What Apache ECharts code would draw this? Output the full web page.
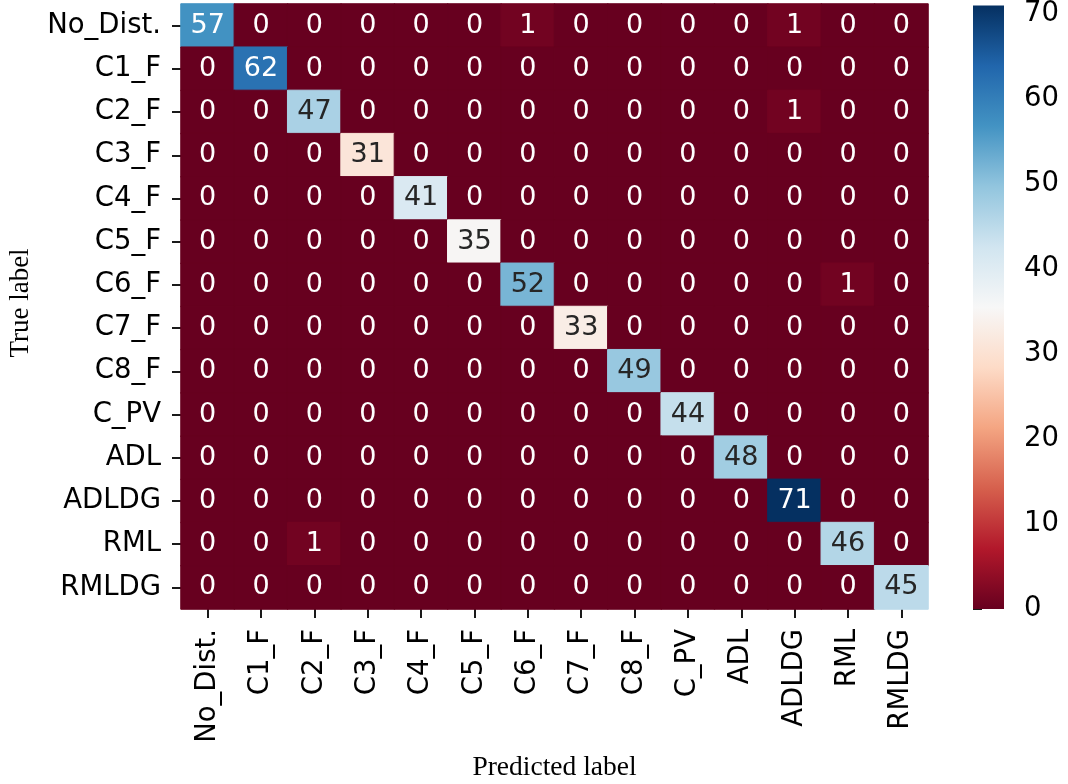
<!DOCTYPE html>
<html>
<head>
<meta charset="utf-8">
<script src="https://cdn.jsdelivr.net/npm/echarts@6/dist/echarts.min.js"></script>
<style>html,body{margin:0;padding:0;background:#fff;}#chart{width:1068px;height:784px;}</style>
</head>
<body>
<div id="chart"></div>
<script>
// ---- data ----
const categories = ['No_Dist.','C1_F','C2_F','C3_F','C4_F','C5_F','C6_F','C7_F','C8_F','C_PV','ADL','ADLDG','RML','RMLDG'];
const rowNoDist = [57,0,0,0,0,0,1,0,0,0,0,1,0,0];
const rowC1F    = [0,62,0,0,0,0,0,0,0,0,0,0,0,0];
const rowC2F    = [0,0,47,0,0,0,0,0,0,0,0,1,0,0];
const rowC3F    = [0,0,0,31,0,0,0,0,0,0,0,0,0,0];
const rowC4F    = [0,0,0,0,41,0,0,0,0,0,0,0,0,0];
const rowC5F    = [0,0,0,0,0,35,0,0,0,0,0,0,0,0];
const rowC6F    = [0,0,0,0,0,0,52,0,0,0,0,0,1,0];
const rowC7F    = [0,0,0,0,0,0,0,33,0,0,0,0,0,0];
const rowC8F    = [0,0,0,0,0,0,0,0,49,0,0,0,0,0];
const rowCPV    = [0,0,0,0,0,0,0,0,0,44,0,0,0,0];
const rowADL    = [0,0,0,0,0,0,0,0,0,0,48,0,0,0];
const rowADLDG  = [0,0,0,0,0,0,0,0,0,0,0,71,0,0];
const rowRML    = [0,0,1,0,0,0,0,0,0,0,0,0,46,0];
const rowRMLDG  = [0,0,0,0,0,0,0,0,0,0,0,0,0,45];
const matrixRows = [rowNoDist,rowC1F,rowC2F,rowC3F,rowC4F,rowC5F,rowC6F,rowC7F,rowC8F,rowCPV,rowADL,rowADLDG,rowRML,rowRMLDG];
const colorMin = 0;
const colorMax = 71;
const colorbarTicks = [0,10,20,30,40,50,60,70];

// ---- colormap (RdBu) ----
const rdbu = ['#67001f','#b2182b','#d6604d','#f4a582','#fddbc7','#f7f7f7','#d1e5f0','#92c5de','#4393c3','#2166ac','#053061'];
function hex2rgb(h){return [parseInt(h.slice(1,3),16),parseInt(h.slice(3,5),16),parseInt(h.slice(5,7),16)];}
function cmap(v){
  let t=(v-colorMin)/(colorMax-colorMin); t=Math.max(0,Math.min(1,t));
  const p=t*(rdbu.length-1); const i=Math.min(Math.floor(p),rdbu.length-2); const f=p-i;
  const a=hex2rgb(rdbu[i]), b=hex2rgb(rdbu[i+1]);
  return [0,1,2].map(k=>a[k]+(b[k]-a[k])*f);
}
function lum(rgb){
  const c=rgb.map(x=>{x/=255;return x<=0.03928?x/12.92:Math.pow((x+0.055)/1.055,2.4);});
  return 0.2126*c[0]+0.7152*c[1]+0.0722*c[2];
}
function rgbStr(c){return 'rgb('+c.map(Math.round).join(',')+')';}

const data=[];
matrixRows.forEach((row,r)=>row.forEach((v,c)=>{
  const rgb=cmap(v);
  const dark = lum(rgb)>0.408;
  data.push({value:[c,r,v],
    itemStyle:{borderColor:rgbStr(rgb),borderWidth:1},
    label:{color:dark?'#262626':'#ffffff'}});
}));

const FONT='DejaVu Sans';
const chart=echarts.init(document.getElementById('chart'),null,{renderer:'canvas'});
chart.setOption({
  backgroundColor:'#ffffff',
  animation:false,
  grid:[
    {left:181,top:4,width:747,height:605},
    {left:973,top:4,width:31,height:605}
  ],
  xAxis:[
    {type:'category',data:categories,gridIndex:0,position:'bottom',
     axisLine:{show:false},splitLine:{show:false},
     axisTick:{show:true,alignWithLabel:true,length:9,lineStyle:{color:'#000',width:1.8}},
     axisLabel:{rotate:90,margin:20,fontSize:27.5,fontFamily:FONT,color:'#000',interval:0}},
    {type:'value',gridIndex:1,show:false,min:0,max:1}
  ],
  yAxis:[
    {type:'category',data:categories,gridIndex:0,inverse:true,
     axisLine:{show:false},splitLine:{show:false},
     axisTick:{show:true,alignWithLabel:true,length:9,lineStyle:{color:'#000',width:1.8}},
     axisLabel:{margin:20,fontSize:27.5,fontFamily:FONT,color:'#000',interval:0}},
    {type:'value',gridIndex:1,position:'right',min:colorMin,max:colorMax,
     axisLine:{show:false},splitLine:{show:false},
     axisTick:{show:true,length:9,lineStyle:{color:'#000',width:1.8},customValues:colorbarTicks},
     axisLabel:{margin:20,fontSize:27.5,fontFamily:FONT,color:'#000',customValues:colorbarTicks}}
  ],
  visualMap:{
    type:'continuous',min:colorMin,max:colorMax,seriesIndex:0,show:false,
    inRange:{color:rdbu}
  },
  graphic:[
    {type:'text',x:554.5,y:768,style:{text:'Predicted label',font:'27.5px "Liberation Serif"',fill:'#000',textAlign:'center',textVerticalAlign:'middle'}},
    {type:'text',x:21,y:303,rotation:Math.PI/2,style:{text:'True label',font:'27px "Liberation Serif"',fill:'#000',textAlign:'center',textVerticalAlign:'middle'}}
  ],
  series:[{
    type:'heatmap',xAxisIndex:0,yAxisIndex:0,data:data,
    label:{show:true,fontSize:27,fontFamily:FONT,formatter:p=>String(p.value[2])},
    emphasis:{disabled:true}
  },{
    type:'custom',xAxisIndex:1,yAxisIndex:1,data:[[0,colorMin]],silent:true,
    renderItem:function(params,api){
      const p0=api.coord([0,colorMin]);
      const p1=api.coord([1,colorMax]);
      const stops=rdbu.map((c,i)=>({offset:i/(rdbu.length-1),color:c}));
      return {type:'rect',
        shape:{x:p0[0],y:p1[1],width:p1[0]-p0[0],height:p0[1]-p1[1]},
        style:{fill:new echarts.graphic.LinearGradient(0,1,0,0,stops)}};
    }
  }]
});
</script>
</body>
</html>
